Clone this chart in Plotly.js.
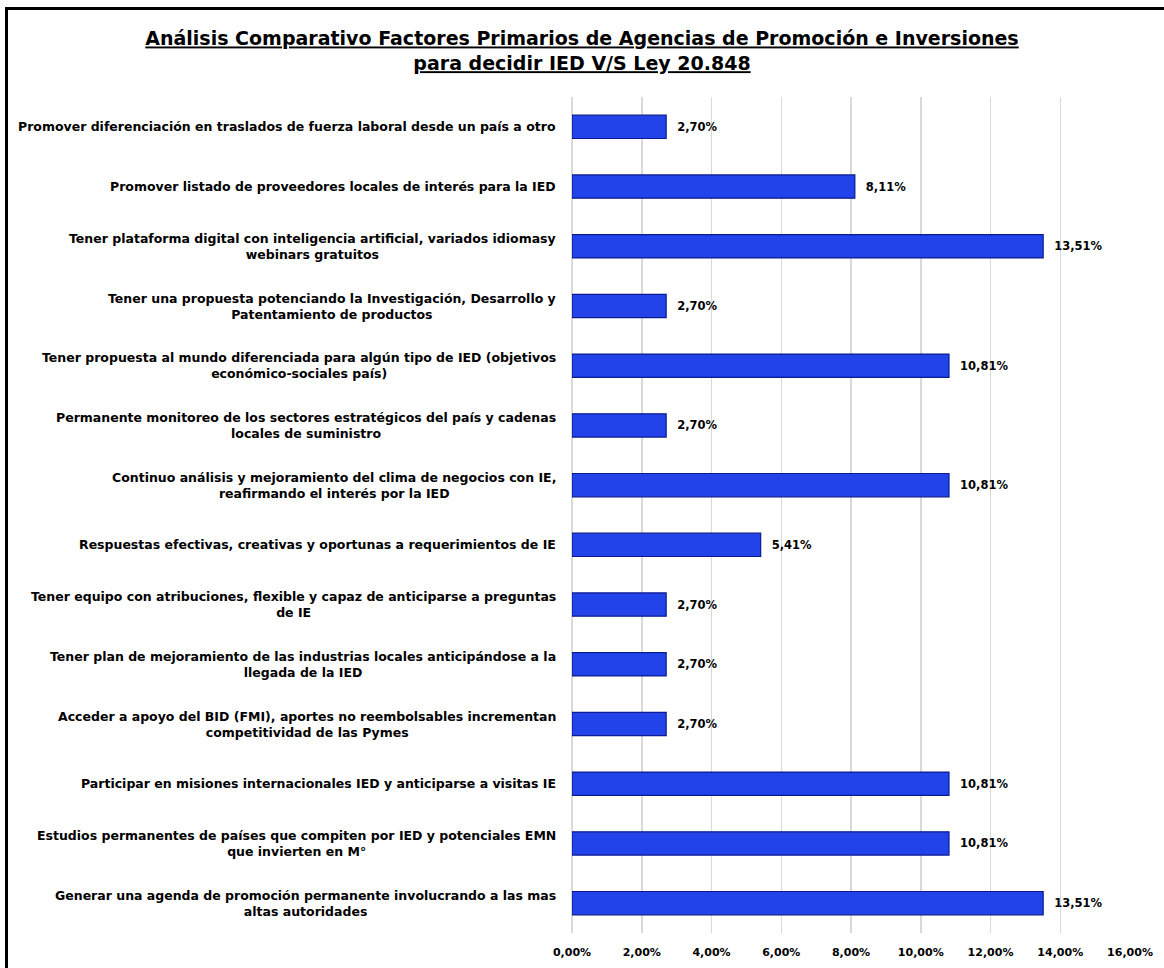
<!DOCTYPE html>
<html>
<head>
<meta charset="utf-8">
<script src="https://cdn.plot.ly/plotly-3.0.1.min.js"></script>
<style>
  html, body { margin: 0; padding: 0; background: #fff; }
  #chart { width: 1164px; height: 968px; }
  #frame { position: absolute; left: 5px; top: 7px; width: 1170px; height: 980px;
           border-left: 3px solid #000; border-top: 3px solid #000; pointer-events: none; }
</style>
</head>
<body>
<div id="chart"></div>
<div id="frame"></div>
<script>
const categories = [
  "Promover diferenciación en traslados de fuerza laboral desde un país a otro",
  "Promover listado de proveedores locales de interés para la IED",
  "Tener plataforma digital con inteligencia artificial, variados idiomasy<br>webinars gratuitos",
  "Tener una propuesta potenciando la Investigación, Desarrollo y<br>Patentamiento de productos",
  "Tener propuesta al mundo diferenciada para algún tipo de IED (objetivos<br>económico-sociales país)",
  "Permanente monitoreo de los sectores estratégicos del país y cadenas<br>locales de suministro",
  "Continuo análisis y mejoramiento del clima de negocios con IE,<br>reafirmando el interés por la IED",
  "Respuestas efectivas, creativas y oportunas a requerimientos de IE",
  "Tener equipo con atribuciones, flexible y capaz de anticiparse a preguntas<br>de IE",
  "Tener plan de mejoramiento de las industrias locales anticipándose a la<br>llegada de la IED",
  "Acceder a apoyo del BID (FMI), aportes no reembolsables incrementan<br>competitividad de las Pymes",
  "Participar en misiones internacionales IED y anticiparse a visitas IE",
  "Estudios permanentes de países que compiten por IED y potenciales EMN<br>que invierten en M°",
  "Generar una agenda de promoción permanente involucrando a las mas<br>altas autoridades"
];
const values = [2.70, 8.11, 13.51, 2.70, 10.81, 2.70, 10.81, 5.41, 2.70, 2.70, 2.70, 10.81, 10.81, 13.51];
const tickValues = [0, 2, 4, 6, 8, 10, 12, 14, 16];
const titleLines = [
  "Análisis Comparativo Factores Primarios de Agencias de Promoción e Inversiones",
  "para decidir IED V/S Ley 20.848"
];

const FONT = "'DejaVu Sans', sans-serif";
const labelText = values.map(v => '  ' + v.toFixed(2).replace('.', ',') + '%');
const tickText = tickValues.map(v => v.toFixed(2).replace('.', ',') + '%');

const trace = {
  type: 'bar',
  orientation: 'h',
  y: categories,
  x: values,
  text: labelText,
  textposition: 'outside',
  cliponaxis: false,
  textfont: { family: FONT, size: 11.5, color: '#000', weight: 'bold' },
  marker: { color: '#2243ea', line: { color: '#0b1b8f', width: 1.2 } },
  hoverinfo: 'skip'
};

const annotations = categories.map(c => ({
  xref: 'paper', yref: 'y', x: 0, y: c,
  xanchor: 'right', yanchor: 'middle', xshift: -14,
  align: 'center', showarrow: false,
  text: '<b>' + c + '</b>',
  font: { family: FONT, size: 12.5, color: '#000' }
}));

const layout = {
  width: 1164, height: 968,
  paper_bgcolor: '#fff', plot_bgcolor: '#fff',
  margin: { l: 572, r: 34, t: 97, b: 35 },
  separators: ',.',
  showlegend: false,
  bargap: 0.61,
  title: {
    text: titleLines.map(t => '<span style="text-decoration:underline"><b>' + t + '</b></span>').join('<br>'),
    x: 0.5, xref: 'container', xanchor: 'center',
    y: 0.953, yanchor: 'top', yref: 'container',
    font: { family: FONT, size: 19, color: '#000' }
  },
  xaxis: {
    range: [0, 16], tickvals: tickValues, ticktext: tickText,
    showgrid: true, gridcolor: '#d9d9d9', gridwidth: 1.5,
    zeroline: true, zerolinecolor: '#d9d9d9', zerolinewidth: 1.5,
    showline: false, ticks: 'outside', ticklen: 9, tickcolor: 'rgba(0,0,0,0)',
    tickfont: { family: FONT, size: 11, color: '#000', weight: 'bold' },
    fixedrange: true
  },
  yaxis: {
    autorange: 'reversed', showticklabels: false, showgrid: false,
    zeroline: false, showline: false, ticks: '', fixedrange: true
  },
  annotations: annotations
};

Plotly.newPlot('chart', [trace], layout, { displayModeBar: false, staticPlot: true });
</script>
</body>
</html>
